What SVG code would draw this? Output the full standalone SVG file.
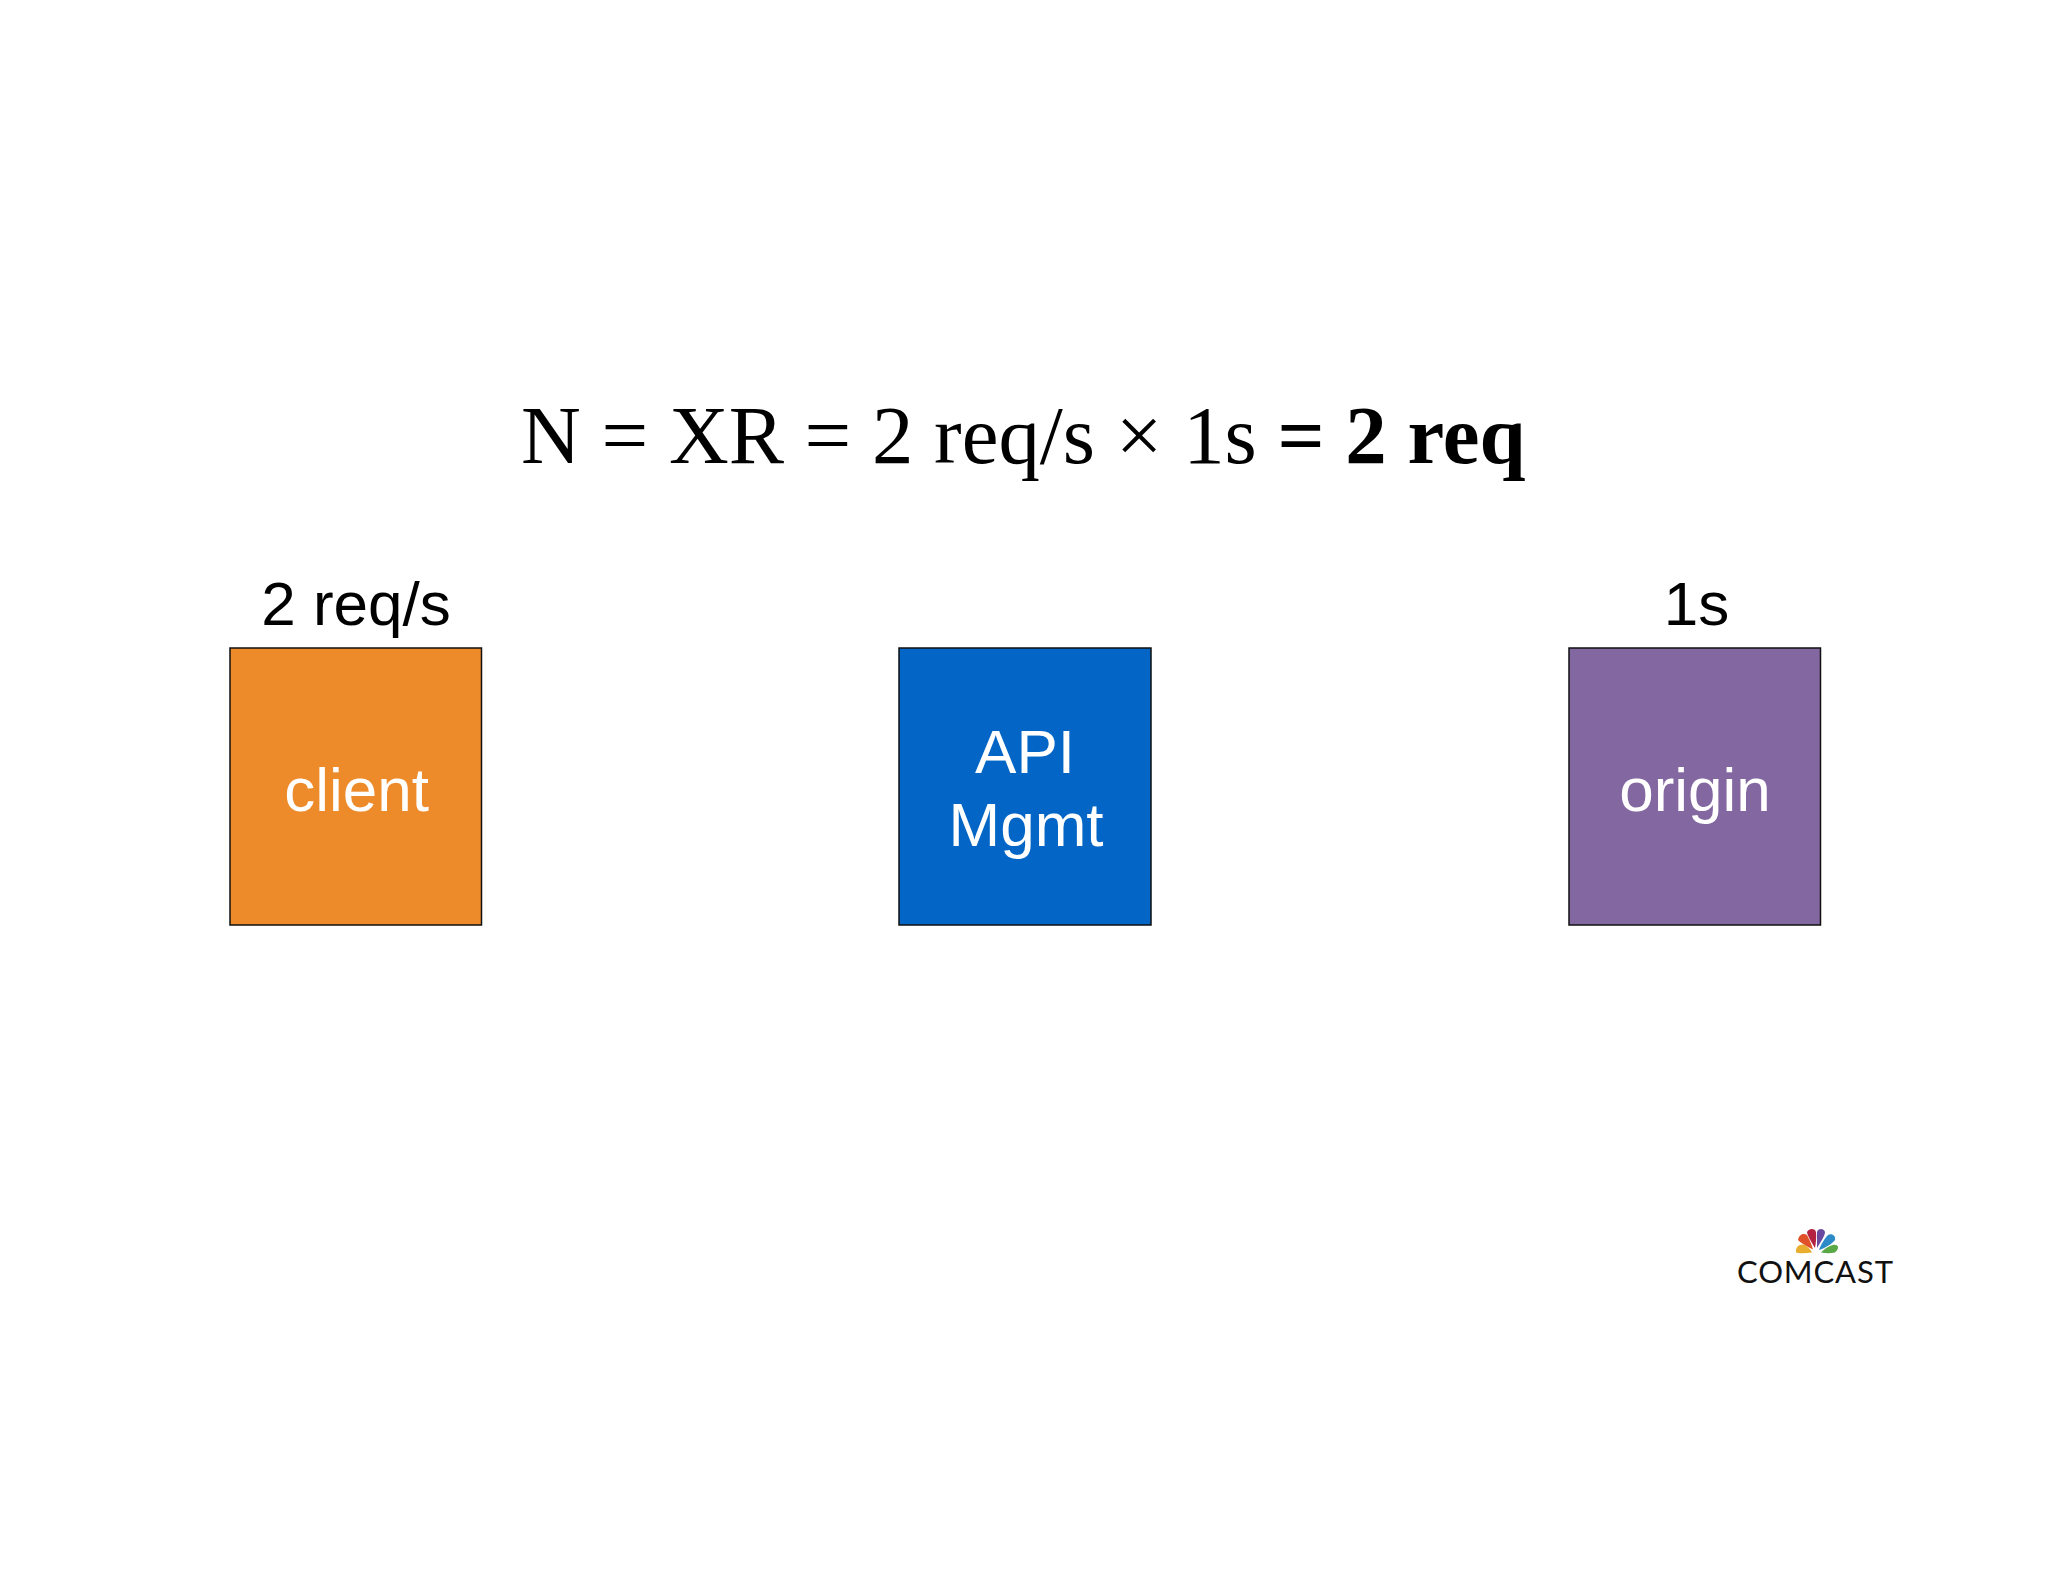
<svg xmlns="http://www.w3.org/2000/svg" width="2048" height="1582" viewBox="0 0 2048 1582">
<style>
.box{stroke:#111;stroke-width:1.5}
.s{font-family:"Liberation Sans",Arial,sans-serif;font-size:62px;text-anchor:middle}
.w{fill:#fff}
.f{font-family:"Liberation Serif","Times New Roman",serif;font-size:82.8px;fill:#000}
</style>
<rect width="2048" height="1582" fill="#fff"/>
<g id="formula"><text class="f" x="521" y="463">N = XR = 2 req/s × 1s <tspan font-weight="bold">= 2 req</tspan></text></g>
<g id="client"><rect class="box" x="230" y="648" width="251.5" height="277" fill="#ed8a2a"/><text class="s w" x="356.500" y="811">client</text><text class="s" x="356" y="625">2 req/s</text></g>
<g id="api"><rect class="box" x="899" y="648" width="252" height="277" fill="#0366c6"/><text class="s w" x="1025" y="773">API</text><text class="s w" x="1026" y="846">Mgmt</text></g>
<g id="origin"><rect class="box" x="1569" y="648" width="251.5" height="277" fill="#8367a1"/><text class="s w" x="1695" y="811">origin</text><text class="s" x="1696.500" y="625" font-size="60">1s</text></g>
<g id="logo">
<path d="M1812 1252.500C1806 1253.500 1798 1253.500 1796 1252.500C1795 1246 1801 1243 1805 1245C1808 1247 1811 1250 1812 1252.500Z" fill="#e8ae2f"/>
<path d="M1813 1249.500C1808 1247 1801 1243 1798 1240C1799 1234 1804 1233 1807 1235C1809 1239 1812 1245 1813 1249.500Z" fill="#e0512a"/>
<path d="M1815 1248C1812 1243 1807 1235 1807 1232C1809 1228 1815 1228 1816 1232C1816.500 1237 1816 1243 1815 1248Z" fill="#b32240"/>
<path d="M1817 1248C1817 1241 1817 1235 1817 1232C1818 1228 1824 1228 1825 1232C1825 1236 1820 1243 1817 1248Z" fill="#6a4a9e"/>
<path d="M1819 1250C1821 1244 1825 1238 1828 1235C1832 1233 1836 1236 1835 1240C1832 1244 1825 1248 1819 1250Z" fill="#2d8ac9"/>
<path d="M1821 1252.500C1824 1249 1829 1246 1833 1245C1837 1244 1841 1247 1835 1252.500C1831 1253.500 1826 1253.500 1821 1252.500Z" fill="#5aa946"/>
<text x="1737" y="1283" font-family="Lato,'Liberation Sans',sans-serif" font-size="31" font-weight="400" textLength="156" lengthAdjust="spacing" fill="#111">COMCAST</text>
</g>
</svg>
